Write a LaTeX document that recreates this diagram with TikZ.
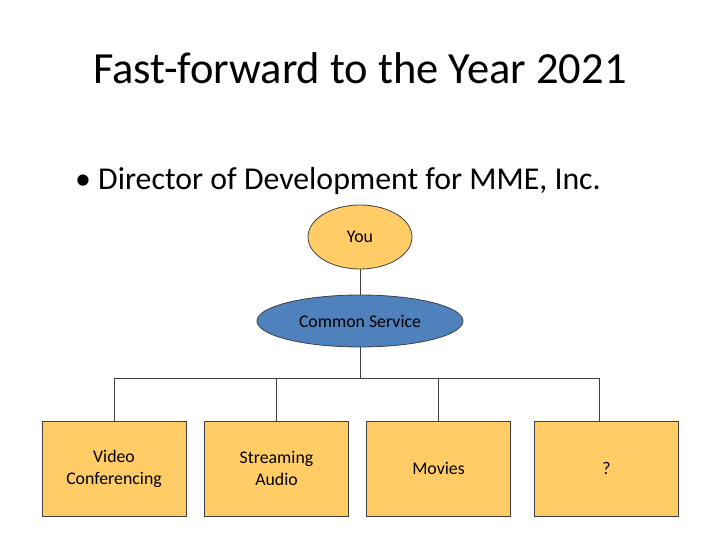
\documentclass[tikz,border=0pt]{standalone}
\usepackage{fontspec}
\setmainfont{Carlito}
\usetikzlibrary{shapes.geometric}
\definecolor{org}{HTML}{FFCC66}
\definecolor{blu}{HTML}{4F81BD}
\definecolor{edge}{HTML}{404040}
\tikzset{
  oval/.style={ellipse,draw=edge,line width=0.8pt,inner sep=0pt,font=\fontsize{17.8}{22}\selectfont},
  leaf/.style={rectangle,draw=edge,line width=0.8pt,fill=org,minimum width=144pt,minimum height=95pt,align=center,font=\fontsize{17.8}{22}\selectfont},
  conn/.style={draw=edge,line width=0.8pt}
}
\begin{document}
\begin{tikzpicture}[x=1pt,y=-1pt]
\useasboundingbox (0,0) rectangle (720,540);
\node (title) at (360,68) {\fontsize{44.5}{50}\selectfont Fast-forward to the Year 2021};
\node[anchor=west,inner sep=0pt] (bul) at (75,181) {\fontsize{31.8}{36}\selectfont • Director of Development for MME, Inc.};
\node[oval,fill=org,minimum width=104pt,minimum height=64pt] (you) at (360,237) {You};
\node[oval,fill=blu,minimum width=206pt,minimum height=52pt] (cs) at (360,321) {Common Service};
\node[leaf] (b1) at (114,468.5) {Video\\Conferencing};
\node[leaf] (b2) at (276.5,468.5) {Streaming\\Audio};
\node[leaf] (b3) at (438.5,468.5) {Movies};
\node[leaf] (b4) at (606.5,468.5) {?};
\coordinate (bar) at (360,378);
\draw[conn] (you.south) -- (cs.north);
\draw[conn] (cs.south) -- (bar);
\draw[conn] (b1.north) -- (114,378) -- (599,378) -- (599,421);
\draw[conn] (b2.north) -- (276.5,378);
\draw[conn] (b3.north) -- (438.5,378);
\end{tikzpicture}
\end{document}
